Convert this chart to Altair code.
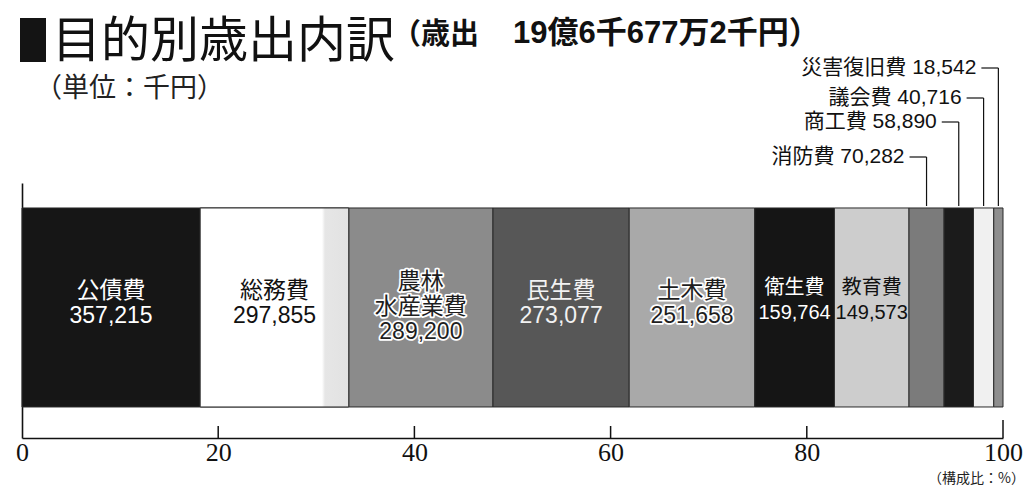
import altair as alt
import pandas as pd

# ---- data ----
categories = ["公債費", "総務費", "農林水産業費", "民生費", "土木費", "衛生費",
              "教育費", "消防費", "商工費", "議会費", "災害復旧費"]
values = [357215, 297855, 289200, 273077, 251658, 159764, 149573,
          70282, 58890, 40716, 18542]
inside_names = ["公債費", "総務費", "農林\n水産業費", "民生費", "土木費", "衛生費", "教育費"]
tick_values = [0, 20, 40, 60, 80, 100]

title_main = "目的別歳出内訳"
title_sub1 = "（歳出"
title_sub2 = "19億6千677万2千円）"
unit_text = "（単位：千円）"
ratio_text = "（構成比：%）"

# ---- styles ----
fills = ["#161616", "#ffffff", "#8b8b8b", "#575757", "#a9a9a9", "#151515",
         "#cdcdcd", "#7b7b7b", "#1b1b1b", "#f0f0f0", "#8e8e8e"]
text_fill = ["#ffffff", "#111111", "#1e1e1e", "#f2f2f2", "#1e1e1e", "#ffffff", "#111111"]
text_halo = [False, False, True, False, True, False, False]
text_size = [23, 23, 23, 23, 23, 20, 20]
callout_y = [-26, -61, -85, -115]      # pixel rows of the four outside labels
tick_top = [243, 243, 243, 243, 237]    # pixel tops of the inward ticks

CJK = "Noto Sans CJK JP"
MIX = "Liberation Sans, Noto Sans CJK JP"

total = sum(values)
df = pd.DataFrame({"cat": categories, "value": values})
df["pct"] = df["value"] / total * 100
df["end"] = df["pct"].cumsum()
df["start"] = df["end"] - df["pct"]
df["mid"] = (df["start"] + df["end"]) / 2
df["row"] = "歳出"

n_in = len(inside_names)
df_in = df.iloc[:n_in].copy()
df_in["label"] = [f"{n}\n{v:,}" for n, v in zip(inside_names, values[:n_in])]
df_in["tcolor"] = text_fill
df_in["halo"] = text_halo
df_in["fs"] = text_size
df_in["lines"] = [s.count("\n") + 1 for s in df_in["label"]]

df_out = df.iloc[n_in:].copy()
df_out["label"] = [f"{c} {v:,}" for c, v in zip(categories[n_in:], values[n_in:])]
df_out["ly"] = callout_y

df_ticks = pd.DataFrame({"t": tick_values[1:], "top": tick_top})

x_scale = alt.Scale(domain=[0, 100], nice=False, zero=True)
y_scale = alt.Scale(paddingInner=0, paddingOuter=0.1407, align=0.446)

bars = alt.Chart(df).mark_bar(stroke="#2a2a2a", strokeWidth=1).encode(
    x=alt.X("start:Q", scale=x_scale, title=None,
            axis=alt.Axis(values=tick_values, ticks=False, grid=False, title=None,
                          domainColor="#111111", domainWidth=1.6,
                          labelFont="Liberation Serif", labelFontSize=26,
                          labelPadding=1, labelColor="#111111", labelFlush=False)),
    x2="end:Q",
    y=alt.Y("row:N", scale=y_scale, title=None,
            axis=alt.Axis(labels=False, ticks=False, title=None, grid=False,
                          domainColor="#111111", domainWidth=1.6)),
    color=alt.Color("cat:N", scale=alt.Scale(domain=categories, range=fills), legend=None),
)

grad = alt.Chart(df[df["cat"] == "総務費"]).mark_bar(
    stroke="#2a2a2a", strokeWidth=1,
    color=alt.Gradient(gradient="linear", x1=0, x2=1, y1=0, y2=0,
                       stops=[alt.GradientStop(color="#ffffff", offset=0),
                              alt.GradientStop(color="#ffffff", offset=0.82),
                              alt.GradientStop(color="#e6e6e6", offset=0.84),
                              alt.GradientStop(color="#e2e2e2", offset=1)])
).encode(x="start:Q", x2="end:Q", y="row:N")


def inside_layers(sub, dy, fs):
    common = dict(font=MIX, fontSize=fs, lineHeight=25, lineBreak="\n",
                  baseline="middle", dy=dy)
    out = []
    hs = sub[sub["halo"]]
    if len(hs):
        out.append(alt.Chart(hs).mark_text(
            stroke="#ffffff", strokeWidth=3.5, fill="#ffffff", strokeJoin="round", **common
        ).encode(x="mid:Q", y="row:N", text="label:N"))
    out.append(alt.Chart(sub).mark_text(**common).encode(
        x="mid:Q", y="row:N", text="label:N", color=alt.Color("tcolor:N", scale=None)))
    return out


in_layers = []
for (nl, fs), sub in df_in.groupby(["lines", "fs"]):
    dy = -16 if nl == 2 else -25
    if fs < 23:
        dy -= 3
    in_layers += inside_layers(sub, dy, int(fs))

labels_out = alt.Chart(df_out).mark_text(
    font=MIX, fontSize=21, align="right", baseline="middle", dx=-22, color="#111111"
).encode(x="mid:Q", y=alt.Y("ly:Q", scale=None, axis=None), text="label:N")

lead_h = alt.Chart(df_out).mark_rule(color="#111111", strokeWidth=1.2, xOffset=-17).encode(
    x="mid:Q", x2="mid:Q", y=alt.Y("ly:Q", scale=None, axis=None))

lead_v = alt.Chart(df_out).mark_rule(color="#111111", strokeWidth=1.2).encode(
    x="mid:Q", y=alt.Y("ly:Q", scale=None, axis=None), y2=alt.value(23))

ticks = alt.Chart(df_ticks).mark_rule(color="#111111", strokeWidth=1.5).encode(
    x="t:Q", y=alt.Y("top:Q", scale=None, axis=None), y2=alt.value(255))

one = pd.DataFrame({"k": [0]})
block = alt.Chart(one).mark_rect(color="#141414").encode(
    x=alt.value(-2), x2=alt.value(24), y=alt.value(-165), y2=alt.value(-121))
t_main = alt.Chart(one).mark_text(text=title_main, font=CJK, fontSize=49, align="left",
                                  baseline="alphabetic", color="#111111").encode(
    x=alt.value(30), y=alt.value(-126))
t_sub1 = alt.Chart(one).mark_text(text=title_sub1, font=CJK, fontSize=29, fontWeight="bold",
                                  align="right", baseline="alphabetic", color="#111111").encode(
    x=alt.value(457), y=alt.value(-139))
t_sub2 = alt.Chart(one).mark_text(text=title_sub2, font=MIX, fontSize=31, fontWeight="bold",
                                  align="left", baseline="alphabetic", color="#111111").encode(
    x=alt.value(491), y=alt.value(-140))
t_unit = alt.Chart(one).mark_text(text=unit_text, font=CJK, fontSize=27, align="left",
                                  baseline="alphabetic", color="#222222").encode(
    x=alt.value(13), y=alt.value(-86))
t_ratio = alt.Chart(one).mark_text(text=ratio_text, font=CJK, fontSize=14, align="right",
                                   baseline="middle", color="#222222").encode(
    x=alt.value(1003), y=alt.value(296))

chart = alt.layer(
    bars, grad, *in_layers, labels_out, lead_h, lead_v, ticks,
    block, t_main, t_sub1, t_sub2, t_unit, t_ratio
).properties(
    width=981, height=255,
    padding={"left": 14, "top": 175, "right": 23, "bottom": 48},
    autosize=alt.AutoSizeParams(type="none"),
    background="#ffffff",
).configure_view(stroke=None)

chart.save("out.html", embed_options={"renderer": "svg", "actions": False})
